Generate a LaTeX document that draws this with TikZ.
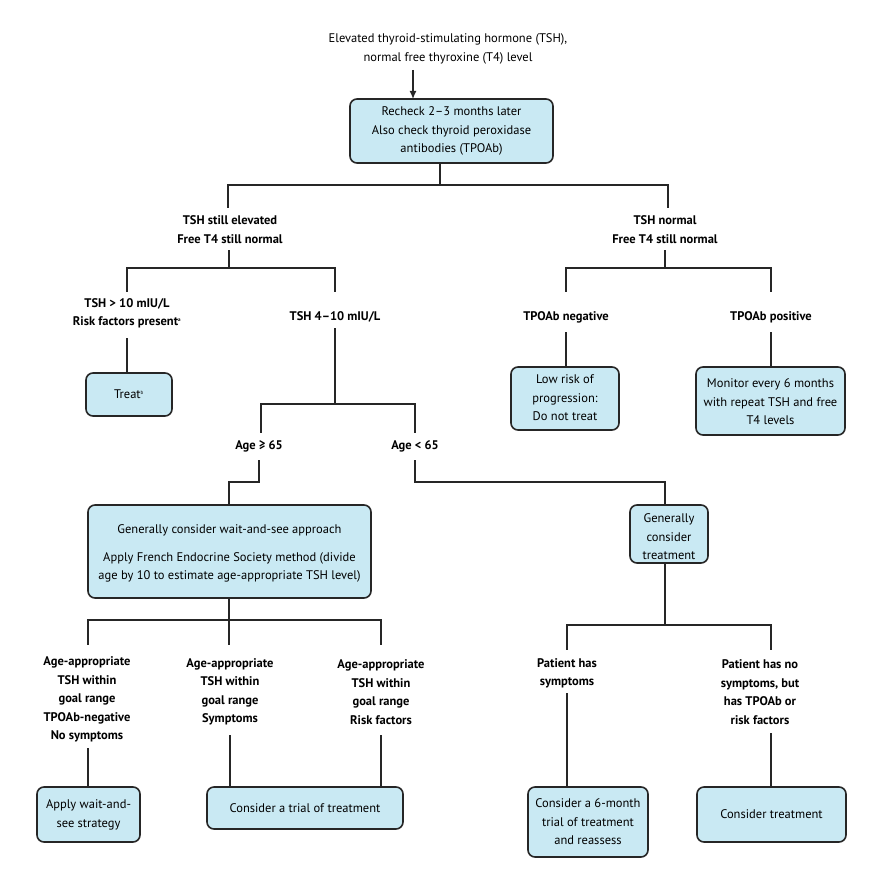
\documentclass[tikz,border=0pt]{standalone}
\usepackage{fontspec}
\setmainfont{PT Sans}
\usetikzlibrary{arrows.meta}
\begin{document}
\begin{tikzpicture}[x=1pt,y=-1pt,
  every node/.style={font=\fontsize{12.5}{18.5}\selectfont,align=center,inner sep=0pt},
  bx/.style={draw=black!85,line width=1.6pt,fill={rgb,255:red,201;green,233;blue,243},rounded corners=7pt},
  lbl/.style={font=\fontsize{12.5}{18.5}\selectfont\bfseries},
  ln/.style={line width=1.4pt,black!85}]
\useasboundingbox (0,0) rectangle (880,888);
\node (top) at (448,49) {Elevated thyroid-stimulating hormone (TSH),\\normal free thyroxine (T4) level};
\draw[bx] (350,99) rectangle (553,163);
\node (b1) at (451.5,131) {Recheck 2–3 months later\\Also check thyroid peroxidase\\antibodies (TPOAb)};
\draw[ln,-{Latex[length=8pt,width=7pt]}] (413,70) -- (413,99);
\draw[ln] (440,163) -- (440,185) -- (228,185) -- (228,208);
\draw[ln] (440,185) -- (668,185) -- (668,208);
\node[lbl] (l1) at (230,229.5) {TSH still elevated\\Free T4 still normal};
\node[lbl] (r1) at (665,229.5) {TSH normal\\Free T4 still normal};
% left branch
\draw[ln] (229,250) -- (229,268) -- (127,268) -- (127,292);
\draw[ln] (229,268) -- (335,268) -- (335,292);
\node[lbl] (t10) at (127,313.5) {TSH > 10 mIU/L\\Risk factors present\textsuperscript{\tiny a}};
\node[lbl] (t410) at (335,317) {TSH 4–10 mIU/L};
\draw[ln] (127,338) -- (127,373);
\draw[bx] (86,373) rectangle (172,416);
\node (treat) at (129,394.5) {Treat\textsuperscript{\tiny b}};
\draw[ln] (335,328) -- (335,404) -- (261,404) -- (261,433);
\draw[ln] (335,404) -- (415,404) -- (415,433);
\node[lbl] (a65) at (259,446) {Age ≥ 65};
\node[lbl] (b65) at (415,446) {Age < 65};
\draw[ln] (259,460) -- (259,482) -- (229,482) -- (229,505);
\draw[ln] (415,460) -- (415,482) -- (665,482) -- (665,505);
\draw[bx] (88,505) rectangle (371,598);
\node (wait) at (229.5,530) {Generally consider wait-and-see approach};
\node (french) at (229.5,567.5) {Apply French Endocrine Society method (divide\\age by 10 to estimate age-appropriate TSH level)};
\draw[bx] (630,505) rectangle (708,563);
\node (gct) at (669,537) {Generally\\consider\\treatment};
% right branch
\draw[ln] (665,250) -- (665,268) -- (566,268) -- (566,292);
\draw[ln] (665,268) -- (771,268) -- (771,292);
\node[lbl] (neg) at (566,317) {TPOAb negative};
\node[lbl] (pos) at (771,317) {TPOAb positive};
\draw[ln] (566,332) -- (566,367);
\draw[ln] (771,332) -- (771,367);
\draw[bx] (511,367) rectangle (619,430);
\node (low) at (565,398) {Low risk of\\progression:\\Do not treat};
\draw[bx] (696,367) rectangle (845,435);
\node (mon) at (770.5,402) {Monitor every 6 months\\with repeat TSH and free\\T4 levels};
% bottom left
\draw[ln] (229,598) -- (229,620) -- (88,620) -- (88,645);
\draw[ln] (229,620) -- (381,620) -- (381,645);
\draw[ln] (229,620) -- (229,645);
\node[lbl] (c1) at (87,699.5) {Age-appropriate\\TSH within\\goal range\\TPOAb-negative\\No symptoms};
\node[lbl] (c2) at (230,692) {Age-appropriate\\TSH within\\goal range\\Symptoms};
\node[lbl] (c3) at (381,692) {Age-appropriate\\TSH within\\goal range\\Risk factors};
\draw[ln] (88,748) -- (88,787);
\draw[ln] (230,735) -- (230,787);
\draw[ln] (381,735) -- (381,787);
\draw[bx] (37,787) rectangle (140,842);
\node (aw) at (88.5,815) {Apply wait-and-\\see strategy};
\draw[bx] (207,787) rectangle (403,829);
\node (trial) at (305,808) {Consider a trial of treatment};
% bottom right
\draw[ln] (665,563) -- (665,625) -- (567,625) -- (567,650);
\draw[ln] (665,625) -- (771,625) -- (771,650);
\node[lbl] (ps) at (567,673.5) {Patient has\\symptoms};
\node[lbl] (pn) at (760,692) {Patient has no\\symptoms, but\\has TPOAb or\\risk factors};
\draw[ln] (567,693) -- (567,787);
\draw[ln] (771,733) -- (771,787);
\draw[bx] (528,787) rectangle (648,857);
\node (six) at (588,822) {Consider a 6-month\\trial of treatment\\and reassess};
\draw[bx] (697,787) rectangle (846,842);
\node (ct) at (771.5,814.5) {Consider treatment};
\end{tikzpicture}
\end{document}
